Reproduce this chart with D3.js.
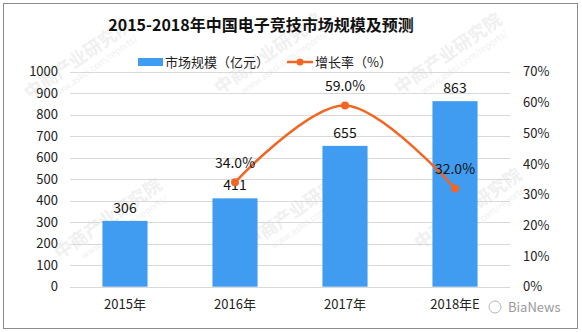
<!DOCTYPE html>
<html>
<head>
<meta charset="utf-8">
<script src="https://cdn.jsdelivr.net/npm/d3@7"></script>
<style>
  html, body { margin: 0; padding: 0; background: #fff; }
  svg { display: block; }
  text { font-family: "Noto Sans CJK SC", "Noto Sans", sans-serif; }
</style>
</head>
<body>
<svg id="chart" width="582" height="332"></svg>
<script>
// Market size (100M CNY) and growth rate, 2015–2018E
const years = ["2015年", "2016年", "2017年", "2018年E"];
const marketSize = [306, 411, 655, 863];
const growthYears = ["2016年", "2017年", "2018年E"];
const growthRate = [34.0, 59.0, 32.0];
const leftTicks = [0, 100, 200, 300, 400, 500, 600, 700, 800, 900, 1000];
const rightTicks = [0, 10, 20, 30, 40, 50, 60, 70];

const svg = d3.select("#chart");
const plot = { left: 70, right: 510, top: 71.7, bottom: 286.7 };

const barColor = "#3f9cf1";
const lineColor = "#f26522";

// faint publisher watermarks
const wm = svg.append("g").attr("fill", "#f0f0f0");
const wmPos = [[30, 100], [220, 95], [400, 95], [60, 260], [250, 250], [420, 250]];
wmPos.forEach(([x, y]) => {
  const g = wm.append("g").attr("transform", `translate(${x},${y}) rotate(-35)`);
  g.append("text").attr("font-size", 18).attr("font-weight", "bold").text("中商产业研究院");
  g.append("text").attr("x", 20).attr("y", 13).attr("font-size", 9).attr("font-family", "Liberation Sans").text("www.askci.com/reports/");
});

// outer frame
svg.append("rect").attr("x", 3.5).attr("y", 3.5).attr("width", 574).attr("height", 325)
  .attr("fill", "none").attr("stroke", "#8c8c8c").attr("stroke-width", 1);

// title
svg.append("text").attr("x", 261).attr("y", 31).attr("text-anchor", "middle")
  .attr("font-size", 16).attr("font-weight", "bold").attr("fill", "#111")
  .text("2015-2018年中国电子竞技市场规模及预测");

// scales
const x = d3.scaleBand().domain(years).range([plot.left, plot.right]).paddingInner(0.59).paddingOuter(0.295);
const yL = d3.scaleLinear().domain([0, 1000]).range([plot.bottom, plot.top]);
const yR = d3.scaleLinear().domain([0, 70]).range([plot.bottom, plot.top]);

// gridlines
svg.append("g").selectAll("line").data(leftTicks).join("line")
  .attr("x1", plot.left).attr("x2", plot.right)
  .attr("y1", d => Math.round(yL(d)) + 0.5).attr("y2", d => Math.round(yL(d)) + 0.5)
  .attr("stroke", "#d9d9d9").attr("stroke-width", 1);

// left axis
const axL = d3.axisLeft(yL).tickValues(leftTicks).tickSize(0).tickPadding(12).tickFormat(d3.format("d"));
svg.append("g").attr("transform", `translate(${plot.left},0)`).call(axL)
  .call(g => g.select(".domain").remove())
  .call(g => g.selectAll("text").attr("font-size", 13).attr("fill", "#222")
    .attr("font-family", "Liberation Sans, sans-serif"));

// right axis
const axR = d3.axisRight(yR).tickValues(rightTicks).tickSize(0).tickPadding(13).tickFormat(d => d + "%");
svg.append("g").attr("transform", `translate(${plot.right},0)`).call(axR)
  .call(g => g.select(".domain").remove())
  .call(g => g.selectAll("text").attr("font-size", 13).attr("fill", "#222")
    .attr("font-family", "Liberation Sans, sans-serif"));

// bottom axis
const axB = d3.axisBottom(x).tickSize(0).tickPadding(13);
svg.append("g").attr("transform", `translate(0,${plot.bottom})`).call(axB)
  .call(g => g.select(".domain").remove())
  .call(g => g.selectAll("text").attr("font-size", 13).attr("fill", "#222"));

// bars
svg.append("g").selectAll("rect").data(marketSize).join("rect")
  .attr("x", (d, i) => x(years[i])).attr("width", x.bandwidth())
  .attr("y", d => yL(d)).attr("height", d => yL(0) - yL(d))
  .attr("fill", barColor);

// bar value labels
svg.append("g").selectAll("text").data(marketSize).join("text")
  .attr("x", (d, i) => x(years[i]) + x.bandwidth() / 2)
  .attr("y", d => yL(d) - 8)
  .attr("text-anchor", "middle").attr("font-size", 14).attr("fill", "#111")
  .attr("font-family", "Liberation Sans, sans-serif")
  .text(d => d);

// growth line (smoothed)
const cx = d => x(d) + x.bandwidth() / 2;
const line = d3.line().x((d, i) => cx(growthYears[i])).y(d => yR(d)).curve(d3.curveCatmullRom.alpha(0));
svg.append("path").datum(growthRate).attr("d", line)
  .attr("fill", "none").attr("stroke", lineColor).attr("stroke-width", 2.5);
svg.append("g").selectAll("circle").data(growthRate).join("circle")
  .attr("cx", (d, i) => cx(growthYears[i])).attr("cy", d => yR(d)).attr("r", 4)
  .attr("fill", lineColor);
svg.append("g").selectAll("text").data(growthRate).join("text")
  .attr("x", (d, i) => cx(growthYears[i])).attr("y", d => yR(d) - 14)
  .attr("text-anchor", "middle").attr("font-size", 14).attr("fill", "#111")
  .attr("font-family", "DejaVu Sans Mono, monospace")
  .text(d => d.toFixed(1) + "%");

// legend
const lg = svg.append("g").attr("transform", "translate(0,62)");
lg.append("rect").attr("x", 138).attr("y", -4).attr("width", 25).attr("height", 8).attr("fill", barColor);
lg.append("text").attr("x", 165).attr("y", 5).attr("font-size", 13).attr("fill", "#222").text("市场规模（亿元）");
lg.append("line").attr("x1", 287).attr("x2", 313).attr("y1", 0).attr("y2", 0)
  .attr("stroke", lineColor).attr("stroke-width", 2.5);
lg.append("circle").attr("cx", 300).attr("cy", 0).attr("r", 3.5).attr("fill", lineColor);
lg.append("text").attr("x", 315).attr("y", 5).attr("font-size", 13).attr("fill", "#222").text("增长率（%）");

// social watermark
svg.append("text").attr("x", 508).attr("y", 312).attr("font-size", 13).attr("fill", "#9a9a9a")
  .attr("font-family", "Liberation Sans, sans-serif").text("BiaNews");
svg.append("circle").attr("cx", 495).attr("cy", 307).attr("r", 6)
  .attr("fill", "none").attr("stroke", "#b5b5b5").attr("stroke-width", 1);
</script>
</body>
</html>
